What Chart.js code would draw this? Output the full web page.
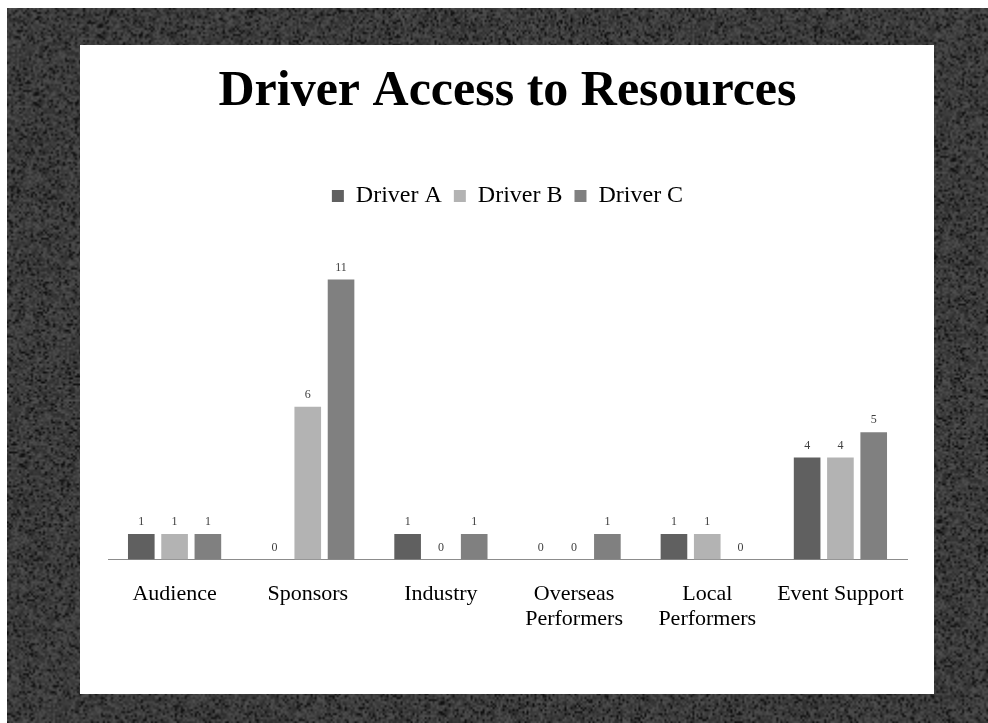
<!DOCTYPE html>
<html>
<head>
<meta charset="utf-8">
<script src="https://cdn.jsdelivr.net/npm/chart.js@4.4.1/dist/chart.umd.min.js"></script>
<style>
    html, body { margin: 0; padding: 0; background: #ffffff; }
    body { width: 988px; height: 723px; position: relative; overflow: hidden; }
    #bg { position: absolute; left: 7px; top: 8px; }
    #panel { position: absolute; left: 80px; top: 45px; width: 854px; height: 649px; background: #ffffff; }
</style>
</head>
<body>
<canvas id="bg" width="981" height="715"></canvas>
<div id="panel"><canvas id="accessChart" width="854" height="649"></canvas></div>
<script>
// chart data
const categories = ['Audience', 'Sponsors', 'Industry', ['Overseas', 'Performers'], ['Local', 'Performers'], 'Event Support'];
const driverA = [1, 0, 1, 0, 1, 4];
const driverB = [1, 6, 0, 0, 1, 4];
const driverC = [1, 11, 1, 1, 0, 5];

const serif = '"Liberation Serif", "Times New Roman", Times, serif';

// granite-ish backdrop: low-res speckle scaled up with smoothing
function drawBackdrop() {
    const cv = document.getElementById('bg');
    const ctx = cv.getContext('2d');
    const w = Math.ceil(cv.width / 2), h = Math.ceil(cv.height / 2);
    const small = document.createElement('canvas');
    small.width = w;
    small.height = h;
    const sctx = small.getContext('2d');
    const img = sctx.createImageData(w, h);
    let seed = 12345;
    function rnd() {
        seed = (seed * 1103515245 + 12345) & 0x7fffffff;
        return seed / 0x7fffffff;
    }
    for (let i = 0; i < w * h; i++) {
        const r = rnd();
        const v = r < 0.12 ? 12 + r * 120 : 42 + rnd() * 40;
        img.data[i * 4] = v;
        img.data[i * 4 + 1] = v;
        img.data[i * 4 + 2] = v;
        img.data[i * 4 + 3] = 255;
    }
    sctx.putImageData(img, 0, 0);
    ctx.imageSmoothingEnabled = true;
    ctx.drawImage(small, 0, 0, cv.width, cv.height);
}
drawBackdrop();

// small value labels on top of each bar
const valueLabels = {
    id: 'valueLabels',
    afterDatasetsDraw(chart) {
        const ctx = chart.ctx;
        ctx.save();
        ctx.font = '12px ' + serif;
        ctx.fillStyle = '#404040';
        ctx.textAlign = 'center';
        ctx.textBaseline = 'bottom';
        chart.data.datasets.forEach(function(ds, i) {
            chart.getDatasetMeta(i).data.forEach(function(bar, j) {
                ctx.fillText(ds.data[j], bar.x, bar.y - 6);
            });
        });
        ctx.restore();
    }
};

// extra room under the legend
const legendGap = {
    id: 'legendGap',
    beforeInit(chart) {
        const fit = chart.legend.fit;
        chart.legend.fit = function() {
            fit.bind(chart.legend)();
            this.height += 36;
        };
    }
};

new Chart(document.getElementById('accessChart'), {
    type: 'bar',
    data: {
        labels: categories,
        datasets: [
            { label: 'Driver A', data: driverA, backgroundColor: '#606060' },
            { label: 'Driver B', data: driverB, backgroundColor: '#b3b3b3' },
            { label: 'Driver C', data: driverC, backgroundColor: '#808080' }
        ]
    },
    options: {
        responsive: false,
        animation: false,
        events: [],
        categoryPercentage: 0.75,
        barPercentage: 0.8,
        layout: { padding: { left: 28, right: 27, top: 0, bottom: 40 } },
        plugins: {
            title: {
                display: true,
                text: 'Driver Access to Resources',
                color: '#000000',
                font: { family: serif, size: 50, weight: 'bold' },
                padding: { top: 17, bottom: 50 }
            },
            legend: {
                position: 'top',
                labels: {
                    color: '#000000',
                    boxWidth: 12,
                    boxHeight: 12,
                    padding: 12,
                    font: { family: serif, size: 24 }
                }
            },
            tooltip: { enabled: false }
        },
        scales: {
            x: {
                grid: { display: false, drawTicks: false },
                border: { display: true, color: '#8c8c8c', width: 1 },
                ticks: {
                    color: '#000000',
                    padding: 22,
                    maxRotation: 0,
                    autoSkip: false,
                    font: { family: serif, size: 22, lineHeight: 1.15 }
                }
            },
            y: {
                display: false,
                min: 0,
                max: 12
            }
        }
    },
    plugins: [valueLabels, legendGap]
});
</script>
</body>
</html>
